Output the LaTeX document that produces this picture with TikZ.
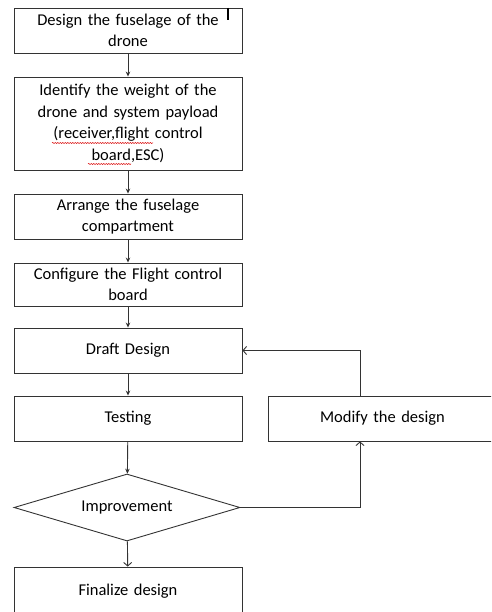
\documentclass[tikz,border=0pt]{standalone}
\usepackage{fontspec}
\setmainfont{Carlito}
\usetikzlibrary{shapes.geometric}
\usetikzlibrary{decorations.pathmorphing}
\usetikzlibrary{arrows.meta}

\begin{document}
\begin{tikzpicture}[x=1pt, y=-1pt, >={Stealth[length=5pt,width=4.5pt]},
every node/.style={font=\fontsize{16.5}{21.5}\selectfont, align=center},
stepbox/.style={draw=black!80, line width=0.9pt, minimum width=228pt,
text width=216pt, inner sep=0pt},
decision/.style={diamond, draw=black!80, line width=0.9pt,
minimum width=226pt, minimum height=67pt, aspect=3.4, inner sep=0pt},
link/.style={->, draw=black!80, line width=0.9pt},
back/.style={-{Straight Barb[length=3.5pt,width=8pt]}, draw=black!80, line width=0.9pt},
spell/.style={red!85!black, line width=0.5pt, decorate,
decoration={snake, amplitude=0.6pt, segment length=2.5pt}}]
\useasboundingbox (0,0) rectangle (491,612);
\clip (0,0) rectangle (491,612);
% main column
\node[stepbox, minimum height=45pt] (fuselage) at (128,30.5) {Design the fuselage of the\\drone};
\node[stepbox, minimum height=93pt] (payload) at (128,123.5) {Identify the weight of the\\drone and system payload\\(receiver,flight control\\board,ESC)};
\node[stepbox, minimum height=45pt] (compartment) at (128,216.5) {Arrange the fuselage\\compartment};
\node[stepbox, minimum height=43pt] (controller) at (128,284.5) {Configure the Flight control\\board};
\node[stepbox, minimum height=45pt] (draft) at (128,350.5) {Draft Design};
\node[stepbox, minimum height=45pt] (testing) at (128,418.5) {Testing};
\node[decision] (improve) at (127,507.5) {Improvement};
\node[stepbox, minimum height=48pt] (final) at (128,591) {Finalize design};
% side branch
\node[stepbox, minimum height=45pt, anchor=west] (modify) at (268,418.5) {Modify the design};
\coordinate (turn) at (360,507.5);
% connectors
\draw[link] (fuselage) -- (payload);
\draw[link] (payload) -- (compartment);
\draw[link] (compartment) -- (controller);
\draw[link] (controller) -- (draft);
\draw[link] (draft) -- (testing);
\draw[link] (testing) -- (improve);
\draw[back] (improve) -- (final);
\draw[back] (improve.east) -- (turn) -- (turn |- modify.south);
\draw[back] (turn |- modify.north) |- (draft.east);
% spelling marks and cursor
\draw[spell] (52,143) -- (153,143);
\draw[spell] (88,164) -- (131,164);
\draw[line width=1.3pt] (228,8) -- (228,20);
\end{tikzpicture}
\end{document}
